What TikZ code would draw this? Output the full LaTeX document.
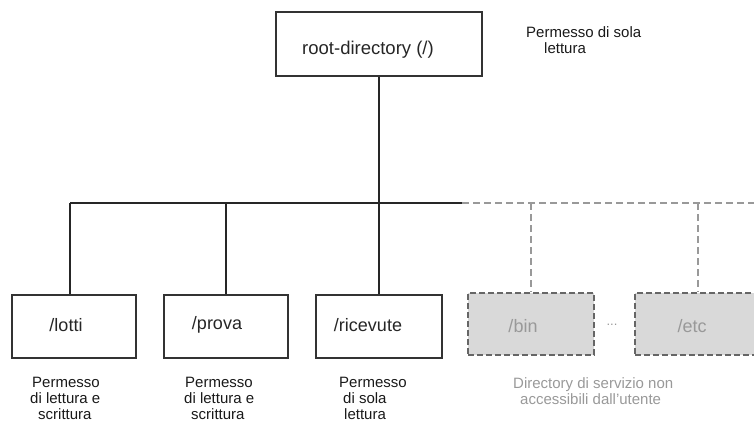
\documentclass[tikz,border=0pt]{standalone}
\usepackage{fontspec}
\setmainfont{Liberation Sans}
\begin{document}
\begin{tikzpicture}[x=1pt,y=-1pt,
  dirbox/.style={draw=black!80,line width=1.6pt,minimum width=124pt,minimum height=63pt,inner sep=0pt},
  sysbox/.style={draw=black!60,fill=black!15,line width=1.6pt,dash pattern=on 6pt off 3pt,minimum width=126pt,minimum height=62pt,inner sep=0pt},
  boxtext/.style={font=\fontsize{18}{20}\selectfont,text=black!85},
  systext/.style={font=\fontsize{18}{20}\selectfont,text=black!40},
  note/.style={font=\fontsize{15}{16}\selectfont,align=left,anchor=north west,inner sep=0pt,text=black!90},
  wire/.style={line width=1.4pt,black!85},
  dwire/.style={line width=1.4pt,black!40,dash pattern=on 7pt off 4pt}]
\useasboundingbox (0,0) rectangle (754,426);

% root directory
\node[dirbox,minimum width=206pt,minimum height=64pt] (root) at (379,44) {};
\node[boxtext,font=\fontsize{18.5}{20}\selectfont] (roottxt) at (368,50) {root-directory (/)};
\node[note] (rootnote) at (526,26) {Permesso di sola\\\hspace*{18pt}lettura};

% user directories
\node[dirbox] (lotti) at (74,326.5) {};
\node[dirbox] (prova) at (226,326.5) {};
\node[dirbox,minimum width=126pt] (ricevute) at (379,326.5) {};
\node[boxtext] (lottitxt) at (66,325) {/lotti};
\node[boxtext] (provatxt) at (217,325) {/prova};
\node[boxtext] (ricevutetxt) at (368,325) {/ricevute};

% system directories
\node[sysbox] (bin) at (531,324) {};
\node[sysbox] (etc) at (698,324) {};
\node[systext] (bintxt) at (523,326) {/bin};
\node[systext] (etctxt) at (692,326) {/etc};
\node[systext,font=\fontsize{13}{14}\selectfont] (dots) at (612,325) {...};

% tree connectors
\coordinate (split) at (379,203);
\coordinate (solidend) at (462,203);
\coordinate (dashend) at (754,203);
\coordinate (lottidrop) at ([xshift=-4pt]lotti.north);
\draw[wire] (root.south) -- (split);
\draw[wire] (lottidrop |- split) -- (solidend);
\draw[wire] (lottidrop |- split) -- (lottidrop);
\draw[wire] (prova.north |- split) -- (prova.north);
\draw[wire] (split) -- (ricevute.north);
\draw[dwire] (solidend) -- (dashend);
\draw[dwire] (bin.north |- split) -- (bin.north);
\draw[dwire] (etc.north |- split) -- (etc.north);

% permission notes
\node[note] (lottinote) at (32,377) {Permesso\\[-0.5pt]\hspace*{-2pt}di lettura e\\\hspace*{6pt}scrittura};
\node[note] (provanote) at (185,377) {Permesso\\[-0.5pt]\hspace*{-1pt}di lettura e\\\hspace*{6pt}scrittura};
\node[note] (ricevutenote) at (339,377) {Permesso\\\hspace*{4pt}di sola\\\hspace*{5pt}lettura};
\node[note,text=black!40] (sysnote) at (513,377) {Directory di servizio non\\\hspace*{7pt}accessibili dall’utente};
\end{tikzpicture}
\end{document}
